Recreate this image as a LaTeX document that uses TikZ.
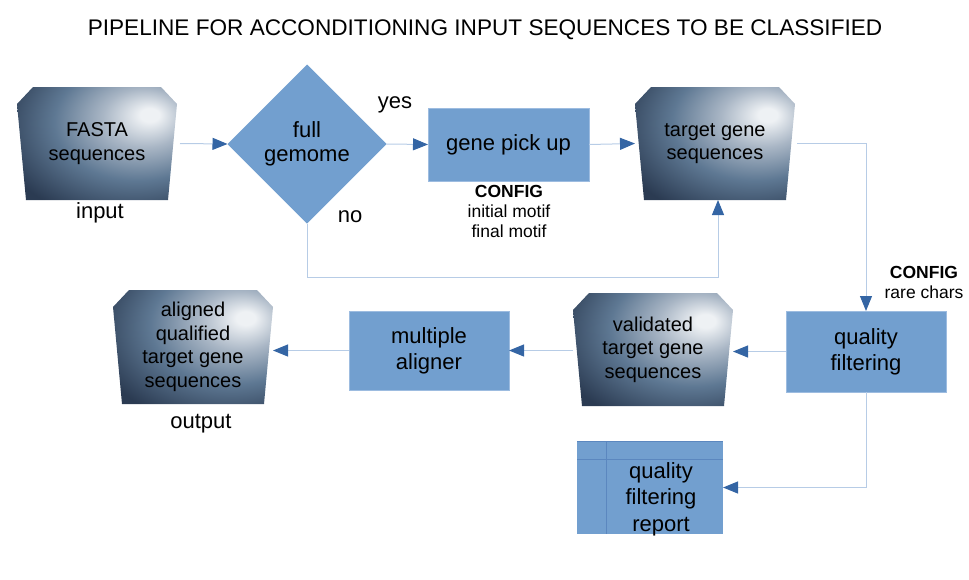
\documentclass[tikz,border=0pt]{standalone}
\usepackage{fontspec}
\setmainfont{Liberation Sans}
\usetikzlibrary{arrows.meta,shapes.geometric,backgrounds,calc}
\definecolor{boxblue}{HTML}{729FCF}
\definecolor{boxedge}{HTML}{9DBCE0}
\definecolor{linecol}{HTML}{B7CCE6}
\definecolor{arrowcol}{HTML}{3465A4}
\definecolor{gridcol}{HTML}{5B87BF}
\definecolor{docw}{HTML}{EEF1F4}
\definecolor{docl}{HTML}{A9B6C5}
\definecolor{docm}{HTML}{5E7893}
\definecolor{docd}{HTML}{2B3B52}
\pgfdeclareradialshading{docshade}{\pgfpoint{17bp}{13bp}}{color(0bp)=(docw); color(3bp)=(docw); color(13bp)=(docl); color(26bp)=(docm); color(42bp)=(docd); color(100bp)=(docd)}
\begin{document}
\begin{tikzpicture}[x=1pt,y=-1pt,
  docbox/.style={rectangle,minimum width=160pt,minimum height=113pt,inner sep=0pt,outer sep=0pt,align=center,font=\fontsize{20}{23.5}\selectfont},
  procbox/.style={rectangle,fill=boxblue,draw=boxedge,line width=0.8pt,inner sep=0pt,outer sep=0pt,align=center,font=\fontsize{22}{26}\selectfont},
  lbl/.style={inner sep=0pt,align=center,font=\fontsize{22}{26}\selectfont},
  cfg/.style={inner sep=0pt,align=center,font=\fontsize{17.5}{20}\selectfont},
  conn/.style={draw=linecol,line width=1pt,-{Triangle[length=15pt,width=12pt,color=arrowcol]}}
]
\useasboundingbox (0,0) rectangle (969,579);

\node[inner sep=0pt,font=\fontsize{22.6}{26}\selectfont] (title) at (485,30) {PIPELINE FOR ACCONDITIONING INPUT SEQUENCES TO BE CLASSIFIED};

\node[docbox] (fasta) at (97,143.5) {FASTA\\sequences};
\node[lbl] (input) at (100,213) {input};

\node[diamond,fill=boxblue,minimum width=159pt,minimum height=159pt,inner sep=0pt,outer sep=0pt,align=center,font=\fontsize{22}{24}\selectfont] (diam) at (307,144) {full\\gemome};
\node[lbl] (yes) at (395,105) {yes};
\node[lbl] (no) at (350,217) {no};

\node[procbox,minimum width=161pt,minimum height=73pt] (gene) at (508.5,144.5) {gene pick up};
\node[cfg] (cfg1) at (509,211) {\textbf{CONFIG}\\initial motif\\final motif};

\node[docbox] (target) at (715,143.5) {target gene\\sequences};

\node[cfg] (cfg2) at (924,282) {\textbf{CONFIG}\\rare chars};
\node[procbox,minimum width=160pt,minimum height=81pt] (qf) at (866,351.5) {quality\\filtering};

\node[docbox] (valid) at (653,349.5) {validated\\target gene\\sequences};

\node[procbox,minimum width=160pt,minimum height=79pt] (ma) at (429,350.5) {multiple\\aligner};

\node[docbox,minimum height=114pt] (aligned) at (193,347) {aligned\\qualified\\target gene\\sequences};
\node[lbl] (output) at (201,424) {output};

\node[rectangle,fill=boxblue,minimum width=146pt,minimum height=93pt,inner sep=0pt,outer sep=0pt] (report) at (650,487.5) {};
\draw[gridcol,line width=0.8pt] ($(report.north west)+(29,0)$) -- ($(report.south west)+(29,0)$);
\draw[gridcol,line width=0.8pt] ($(report.north west)+(0,18)$) -- ($(report.north east)+(0,18)$);
\draw[gridcol,line width=0.8pt] (report.north west) -- (report.north east);
\node[lbl,font=\fontsize{22}{26.5}\selectfont] (reporttxt) at (661,499) {quality\\filtering\\report};

\begin{scope}[on background layer]
\foreach \n in {fasta,target,valid,aligned}{
  \shade[shading=docshade] ([xshift=16pt]\n.north west) -- ([xshift=-16pt]\n.north east) -- ([yshift=-17pt]\n.north east) -- ([xshift=-9pt]\n.south east) -- ([xshift=9pt]\n.south west) -- ([yshift=-17pt]\n.north west) -- cycle;
}
\end{scope}

\draw[conn] ([xshift=3pt]fasta.east) -- (diam.west);
\draw[conn] (diam.east) -- (gene.west);
\draw[conn] (gene.east) -- (target.west);
\draw[conn] (diam.south) -- ++(0,54) -| ([xshift=3pt]target.south);
\draw[conn] ([xshift=2pt]target.east) -| (qf.north);
\draw[conn] (qf.west) -- (qf.west -| valid.east);
\draw[conn] (valid.west |- ma.east) -- (ma.east);
\draw[conn] (ma.west) -- (ma.west -| aligned.east);
\draw[conn] (qf.south) |- (report.east);
\end{tikzpicture}
\end{document}
